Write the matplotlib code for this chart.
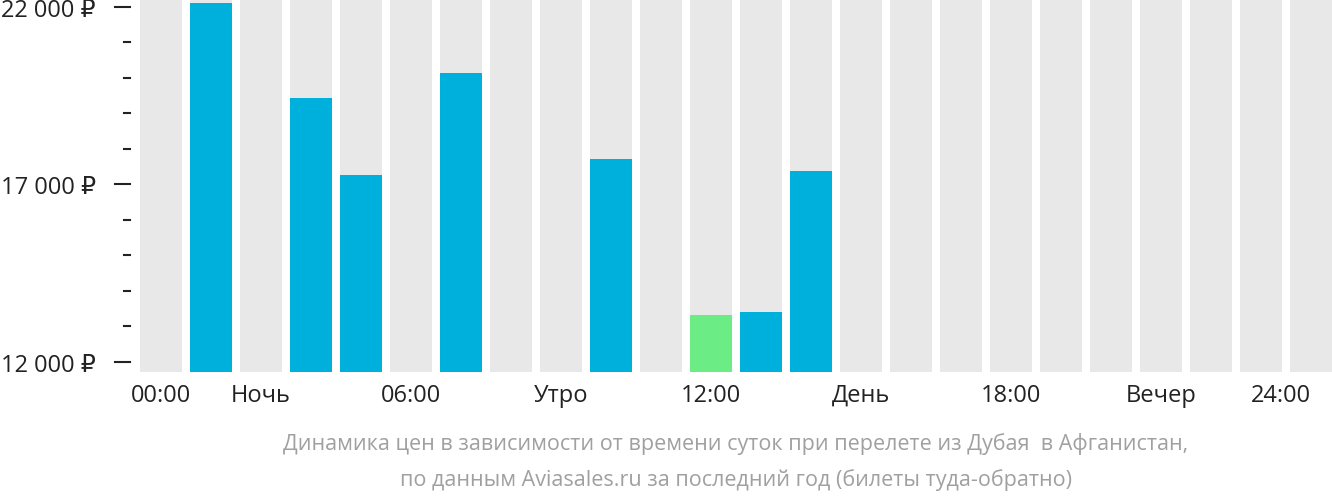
import matplotlib
matplotlib.use("Agg")
import matplotlib.pyplot as plt
from matplotlib.transforms import blended_transform_factory

hours = list(range(24))
prices = [None, 22110, None, 19440, 17270, None, 20140, None, None, 17720,
          None, 13320, 13410, 17380] + [None]*10
highlight = 11
xlabels = ["00:00", "Ночь", "06:00", "Утро", "12:00", "День", "18:00", "Вечер", "24:00"]
xlabel_pos = [0, 2, 5, 8, 11, 14, 17, 20, 23]
major = [12000, 17000, 22000]
minor = [13000, 14000, 15000, 16000, 18000, 19000, 20000, 21000]

plt.rcParams["font.family"] = ["Open Sans", "DejaVu Sans"]
fig = plt.figure(figsize=(13.32, 5.02), dpi=100)
ax = fig.add_axes([140/1332, 129/502, 1192/1332, 373/502])
ymin, ymax = 11718, 22225
ax.set_xlim(-0.42, 23.42)
ax.set_ylim(ymin, ymax)
ax.bar(hours, [ymax - ymin]*24, bottom=ymin, width=0.84, color="#e8e8e8")
for h, p in zip(hours, prices):
    if p is not None:
        ax.bar(h, p - ymin, bottom=ymin, width=0.84,
               color="#6cec84" if h == highlight else "#00b0dc")
for s in ax.spines.values():
    s.set_visible(False)
ax.set_yticks(major)
ax.set_yticklabels([f"{v//1000} 000 ₽" for v in major], fontsize=17, color="#222")
ax.tick_params(axis="y", length=0, pad=32)
ax.set_xticks(xlabel_pos)
ax.set_xticklabels(xlabels, fontsize=17, color="#222")
ax.tick_params(axis="x", length=0, pad=8)
ax.get_xticklabels()[-1].set_ha("right")
ax.get_xticklabels()[-1].set_x(23.42)
tr = blended_transform_factory(ax.transAxes, ax.transData)
for v in major:
    ax.plot([-25/1192, -10/1192], [v, v], transform=tr, color="#222", lw=1.5, clip_on=False)
for v in minor:
    ax.plot([-16/1192, -10/1192], [v, v], transform=tr, color="#222", lw=1.5, clip_on=False)
fig.text(736/1332, 1 - 444/502, "Динамика цен в зависимости от времени суток при перелете из Дубая  в Афганистан,",
         ha="center", va="center", fontsize=15.5, color="#a0a0a0")
fig.text(736/1332, 1 - 480/502, "по данным Aviasales.ru за последний год (билеты туда-обратно)",
         ha="center", va="center", fontsize=15.5, color="#a0a0a0")
fig.savefig("out.png", dpi=100)
